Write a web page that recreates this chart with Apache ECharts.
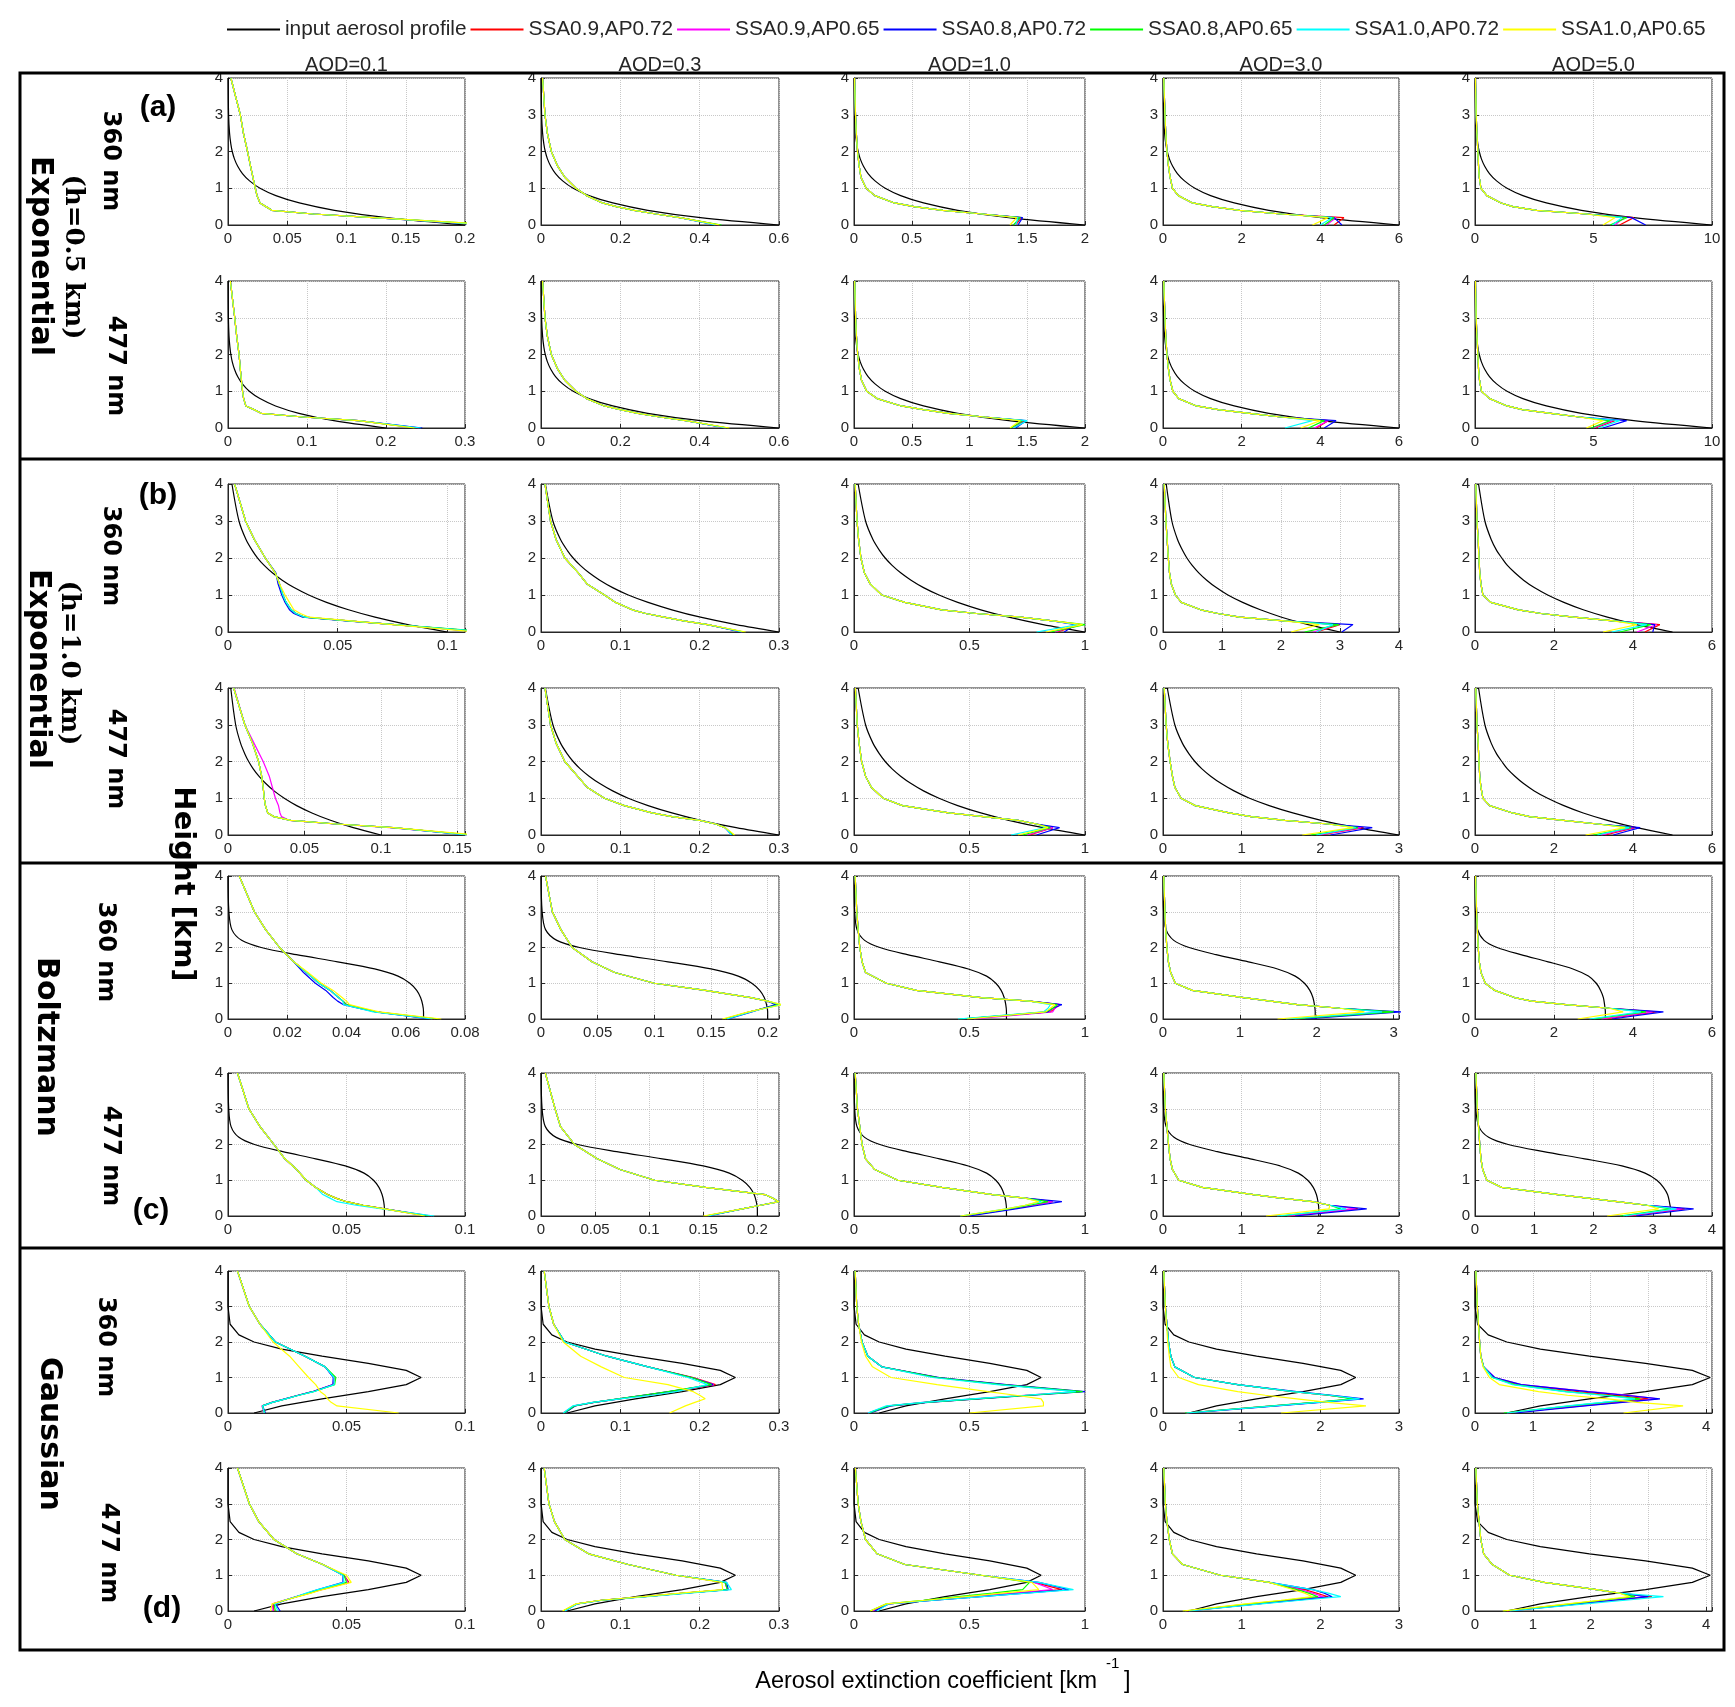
<!DOCTYPE html>
<html><head><meta charset="utf-8">
<script src="https://cdn.jsdelivr.net/npm/echarts@6/dist/echarts.min.js"></script>
<style>html,body{margin:0;padding:0;background:#fff;}#c{width:1735px;height:1707px;}</style>
</head><body><div id="c"></div>
<script>
// ---------- DATA ----------
const zIn  = [0, 0.2, 0.4, 0.6, 0.8, 1.0, 1.2, 1.4, 1.6, 1.8, 2.0, 2.2, 2.5, 3.0, 4.0];
const zRet = [0, 0.2, 0.3, 0.4, 0.5, 0.6, 0.8, 1.0, 1.3, 1.6, 2.0, 2.5, 3.0, 4.0];
const aodTitles = ['AOD=0.1', 'AOD=0.3', 'AOD=1.0', 'AOD=3.0', 'AOD=5.0'];
const seriesNames = ['input aerosol profile', 'SSA0.9,AP0.72', 'SSA0.9,AP0.65', 'SSA0.8,AP0.72', 'SSA0.8,AP0.65', 'SSA1.0,AP0.72', 'SSA1.0,AP0.65'];
const xMax = [
  [0.2, 0.6, 2, 6, 10],
  [0.3, 0.6, 2, 6, 10],
  [0.108, 0.3, 1, 4, 6],
  [0.155, 0.3, 1, 3, 6],
  [0.08, 0.21, 1, 3.07, 6],
  [0.1, 0.22, 1, 3, 4],
  [0.1, 0.3, 1, 3, 4.1],
  [0.1, 0.3, 1, 3, 4.1]
];
const xStep = [
  [0.05, 0.2, 0.5, 2, 5],
  [0.1, 0.2, 0.5, 2, 5],
  [0.05, 0.1, 0.5, 1, 2],
  [0.05, 0.1, 0.5, 1, 2],
  [0.02, 0.05, 0.5, 1, 2],
  [0.05, 0.05, 0.5, 1, 1],
  [0.05, 0.1, 0.5, 1, 1],
  [0.05, 0.1, 0.5, 1, 1]
];

// input profiles (x values at zIn), one per AOD column
const blackExp05 = [
  [0.2, 0.134, 0.0898, 0.0602, 0.0404, 0.027, 0.0182, 0.0122, 0.0082, 0.0054, 0.0036, 0.0024, 0.0013, 0.0005, 0.0001],
  [0.6, 0.402, 0.269, 0.181, 0.121, 0.081, 0.0546, 0.0366, 0.0246, 0.0162, 0.0108, 0.0072, 0.004, 0.0015, 0.0002],
  [2, 1.34, 0.898, 0.602, 0.404, 0.27, 0.182, 0.122, 0.082, 0.054, 0.036, 0.024, 0.013, 0.005, 0.0006],
  [6, 4.02, 2.69, 1.81, 1.21, 0.81, 0.546, 0.366, 0.246, 0.162, 0.108, 0.072, 0.04, 0.015, 0.002],
  [10, 6.7, 4.49, 3.01, 2.02, 1.35, 0.91, 0.61, 0.41, 0.27, 0.18, 0.12, 0.067, 0.025, 0.003]
];
const blackExp10 = [
  [0.1, 0.0819, 0.067, 0.0549, 0.0449, 0.0368, 0.0301, 0.0247, 0.0202, 0.0165, 0.0135, 0.0111, 0.0082, 0.005, 0.0018],
  [0.3, 0.246, 0.201, 0.165, 0.135, 0.11, 0.0903, 0.0741, 0.0606, 0.0495, 0.0405, 0.0333, 0.0246, 0.015, 0.0055],
  [1, 0.819, 0.67, 0.549, 0.449, 0.368, 0.301, 0.247, 0.202, 0.165, 0.135, 0.111, 0.082, 0.05, 0.018],
  [3, 2.46, 2.01, 1.65, 1.35, 1.1, 0.903, 0.741, 0.606, 0.495, 0.405, 0.333, 0.246, 0.15, 0.055],
  [5, 4.09, 3.35, 2.74, 2.25, 1.84, 1.5, 1.23, 1.01, 0.82, 0.68, 0.55, 0.41, 0.25, 0.09]
];
const blackBoltz = [
  [0.066, 0.066, 0.0657, 0.065, 0.0637, 0.0614, 0.0574, 0.0495, 0.037, 0.0231, 0.0112, 0.0046, 0.0013, 0.0003, 0],
  [0.2, 0.2, 0.199, 0.197, 0.193, 0.186, 0.174, 0.15, 0.112, 0.07, 0.034, 0.014, 0.004, 0.001, 0],
  [0.66, 0.66, 0.657, 0.65, 0.637, 0.614, 0.574, 0.495, 0.37, 0.231, 0.112, 0.046, 0.013, 0.003, 0],
  [1.98, 1.98, 1.97, 1.95, 1.91, 1.84, 1.72, 1.49, 1.11, 0.69, 0.34, 0.14, 0.04, 0.008, 0],
  [3.3, 3.3, 3.28, 3.25, 3.18, 3.07, 2.87, 2.48, 1.85, 1.16, 0.56, 0.23, 0.066, 0.013, 0]
];
const blackGauss = [
  [0.011, 0.0227, 0.0397, 0.0592, 0.0752, 0.0815, 0.0752, 0.0592, 0.0397, 0.0227, 0.011, 0.0046, 0.0009, 0, 0],
  [0.033, 0.068, 0.119, 0.178, 0.226, 0.245, 0.226, 0.178, 0.119, 0.068, 0.033, 0.0137, 0.0027, 0.0001, 0],
  [0.109, 0.225, 0.394, 0.588, 0.748, 0.81, 0.748, 0.588, 0.394, 0.225, 0.109, 0.045, 0.009, 0.0002, 0],
  [0.33, 0.68, 1.19, 1.78, 2.26, 2.45, 2.26, 1.78, 1.19, 0.68, 0.33, 0.137, 0.027, 0.001, 0],
  [0.55, 1.13, 1.98, 2.95, 3.76, 4.07, 3.76, 2.95, 1.98, 1.13, 0.55, 0.228, 0.045, 0.001, 0]
];

// retrieved profiles: shared values at zRet per panel, and per-colour leading values
// (order: red, magenta, blue, green, cyan, yellow)
const retBase1 = [
  [0.225, 0.123, 0.072, 0.037, 0.032, 0.027, 0.0245, 0.023, 0.021, 0.019, 0.0165, 0.013, 0.0104, 0.0024],
  [0.45, 0.35, 0.29, 0.235, 0.19, 0.155, 0.115, 0.088, 0.06, 0.042, 0.026, 0.016, 0.01, 0.004],
  [1.38, 1.43, 1.11, 0.77, 0.52, 0.35, 0.18, 0.105, 0.06, 0.045, 0.03, 0.02, 0.013, 0.005],
  [4.2, 4.4, 3.0, 1.95, 1.25, 0.75, 0.39, 0.24, 0.18, 0.14, 0.1, 0.07, 0.05, 0.02],
  [5.8, 6.4, 4.7, 2.6, 1.6, 1.1, 0.5, 0.25, 0.18, 0.15, 0.12, 0.08, 0.05, 0.02]
];
const retLead1 = [
  [[0.22], [0.222], [0.218], [0.228], [0.22], [0.23]],
  [[0.45], [0.445], [0.44], [0.455], [0.44], [0.45]],
  [[1.4, 1.45], [1.39, 1.44], [1.42, 1.46], [1.38, 1.44], [1.4, 1.42], [1.35, 1.41]],
  [[4.35, 4.6], [4.15, 4.4], [4.55, 4.35], [4.1, 4.35], [4.0, 4.3], [3.8, 4.2]],
  [[6.1, 6.7], [5.9, 6.3], [7.2, 6.6], [5.7, 6.4], [5.8, 6.2], [5.4, 5.9]]
];
const retBase2 = [
  [0.242, 0.165, 0.095, 0.042, 0.033, 0.0226, 0.0198, 0.0184, 0.017, 0.0156, 0.014, 0.011, 0.0085, 0.003],
  [0.47, 0.365, 0.3, 0.245, 0.2, 0.16, 0.115, 0.088, 0.06, 0.042, 0.026, 0.016, 0.01, 0.004],
  [1.37, 1.47, 1.13, 0.82, 0.6, 0.41, 0.2, 0.11, 0.065, 0.047, 0.032, 0.021, 0.014, 0.006],
  [3.7, 4.1, 3.0, 2.2, 1.4, 0.85, 0.4, 0.25, 0.18, 0.14, 0.1, 0.07, 0.05, 0.02],
  [5.0, 5.8, 4.4, 3.2, 2.0, 1.35, 0.62, 0.27, 0.19, 0.15, 0.12, 0.08, 0.05, 0.02]
];
const retLead2 = [
  [[0.24], [0.242], [0.246], [0.238], [0.244], [0.236]],
  [[0.47], [0.465], [0.468], [0.472], [0.466], [0.475]],
  [[1.38, 1.47], [1.37, 1.46], [1.4, 1.49], [1.36, 1.46], [1.38, 1.5], [1.35, 1.44]],
  [[3.9, 4.2], [3.85, 4.2], [4.1, 4.4], [3.7, 4.1], [3.1, 3.8], [3.5, 4.0]],
  [[5.1, 5.9], [5.0, 5.8], [5.4, 6.4], [4.9, 5.7], [5.2, 6.1], [4.7, 5.4]]
];
const retBase3 = [
  [0.117, 0.076, 0.055, 0.035, 0.031, 0.0288, 0.0265, 0.025, 0.0235, 0.0215, 0.017, 0.012, 0.008, 0.003],
  [0.255, 0.21, 0.18, 0.155, 0.132, 0.115, 0.094, 0.08, 0.058, 0.047, 0.03, 0.019, 0.012, 0.005],
  [0.85, 0.98, 0.86, 0.72, 0.53, 0.38, 0.22, 0.12, 0.07, 0.045, 0.03, 0.02, 0.013, 0.005],
  [2.5, 2.95, 2.05, 1.3, 0.93, 0.64, 0.31, 0.21, 0.14, 0.11, 0.09, 0.07, 0.05, 0.02],
  [3.7, 4.5, 3.5, 2.5, 1.67, 1.1, 0.4, 0.2, 0.15, 0.12, 0.1, 0.08, 0.05, 0.02]
];
const retLead3 = [
  [[0.118], [0.117], [0.116, 0.076, 0.054, 0.034, 0.03, 0.028, 0.026, 0.0245, 0.0228, 0.0218], [0.12], [0.118], [0.113, 0.075, 0.056, 0.037, 0.033, 0.03, 0.028, 0.026]],
  [[0.255], [0.253], [0.252], [0.256], [0.254], [0.258]],
  [[0.88, 0.98], [0.87, 0.97], [0.91, 0.96], [0.85, 1.0], [0.79, 0.97], [0.83, 0.99]],
  [[2.6, 3.0], [2.55, 2.95], [3.03, 3.22], [2.4, 2.98], [2.6, 2.88], [2.17, 2.65]],
  [[4.3, 4.68], [4.1, 4.6], [4.5, 4.55], [3.67, 4.45], [3.46, 4.35], [3.24, 4.1]]
];
const retBase4 = [
  [0.16, 0.108, 0.071, 0.041, 0.03, 0.026, 0.0245, 0.0237, 0.023, 0.022, 0.02, 0.016, 0.011, 0.0037],
  [0.242, 0.232, 0.22, 0.2, 0.165, 0.14, 0.105, 0.08, 0.058, 0.046, 0.03, 0.019, 0.012, 0.005],
  [0.74, 0.85, 0.79, 0.71, 0.56, 0.41, 0.21, 0.126, 0.075, 0.05, 0.033, 0.022, 0.014, 0.006],
  [1.95, 2.5, 2.1, 1.55, 1.12, 0.84, 0.41, 0.23, 0.15, 0.12, 0.09, 0.06, 0.04, 0.015],
  [3.1, 4.0, 3.1, 2.24, 1.38, 0.95, 0.37, 0.2, 0.15, 0.12, 0.1, 0.08, 0.05, 0.02]
];
const retLead4 = [
  [[0.158], [0.158, 0.106, 0.07, 0.04, 0.035, 0.034, 0.033, 0.031, 0.029, 0.027, 0.023, 0.017, 0.011, 0.004], [0.157], [0.16], [0.156], [0.162]],
  [[0.242], [0.24], [0.241], [0.243], [0.24], [0.244]],
  [[0.76, 0.86], [0.75, 0.86], [0.79, 0.89], [0.73, 0.85], [0.68, 0.83], [0.71, 0.84]],
  [[2.0, 2.55], [1.98, 2.52], [2.13, 2.66], [1.88, 2.48], [1.95, 2.45], [1.77, 2.42]],
  [[3.3, 4.05], [3.2, 4.0], [3.5, 4.18], [3.0, 3.95], [3.1, 3.9], [2.8, 3.8]]
];
const retBase5 = [
  [0.07, 0.05, 0.045, 0.04, 0.0388, 0.0373, 0.0345, 0.0307, 0.0265, 0.0222, 0.0174, 0.0127, 0.0089, 0.0038],
  [0.162, 0.184, 0.197, 0.21, 0.2, 0.185, 0.145, 0.1, 0.065, 0.045, 0.0275, 0.0175, 0.01, 0.004],
  [0.46, 0.84, 0.86, 0.88, 0.76, 0.55, 0.27, 0.14, 0.05, 0.035, 0.025, 0.018, 0.012, 0.005],
  [1.7, 2.9, 2.3, 1.75, 1.4, 1.05, 0.38, 0.16, 0.1, 0.07, 0.05, 0.035, 0.025, 0.01],
  [3.0, 4.3, 3.4, 2.3, 1.44, 1.0, 0.5, 0.26, 0.15, 0.11, 0.08, 0.06, 0.04, 0.015]
];
const retLead5 = [
  [[0.069], [0.07], [0.068, 0.05, 0.044, 0.039, 0.037, 0.0355, 0.033, 0.0295, 0.0255], [0.071], [0.069, 0.049, 0.044, 0.039], [0.072, 0.051, 0.046, 0.041, 0.04, 0.0385, 0.0355, 0.0315, 0.027]],
  [[0.163], [0.162], [0.165, 0.186, 0.196, 0.207], [0.162], [0.164, 0.185, 0.198, 0.212], [0.16, 0.183, 0.198, 0.213]],
  [[0.47, 0.85, 0.87, 0.89], [0.52, 0.86, 0.87, 0.89], [0.47, 0.84, 0.86, 0.9], [0.46, 0.83, 0.86, 0.88], [0.45, 0.82, 0.84, 0.85], [0.49, 0.83, 0.85, 0.87]],
  [[1.75, 2.95], [1.72, 2.9], [1.85, 3.1], [1.7, 3.0], [1.6, 2.85], [1.49, 2.62]],
  [[3.3, 4.6], [3.2, 4.5], [3.47, 4.77], [3.0, 4.33], [2.9, 4.2], [2.6, 3.75]]
];
const retBase6 = [
  [0.086, 0.066, 0.057, 0.05, 0.0455, 0.042, 0.037, 0.033, 0.029, 0.024, 0.0194, 0.0135, 0.0088, 0.004],
  [0.152, 0.186, 0.203, 0.22, 0.214, 0.207, 0.152, 0.105, 0.073, 0.052, 0.031, 0.018, 0.013, 0.004],
  [0.47, 0.67, 0.76, 0.84, 0.74, 0.6, 0.38, 0.19, 0.09, 0.05, 0.035, 0.025, 0.015, 0.005],
  [1.5, 2.3, 2.12, 1.9, 1.5, 1.15, 0.5, 0.2, 0.12, 0.09, 0.07, 0.05, 0.03, 0.01],
  [2.5, 3.3, 2.9, 2.4, 1.9, 1.4, 0.45, 0.2, 0.13, 0.1, 0.08, 0.06, 0.04, 0.015]
];
const retLead6 = [
  [[0.085], [0.086], [0.084], [0.085], [0.087, 0.065, 0.054, 0.046, 0.043, 0.04], [0.083]],
  [[0.153], [0.152], [0.155], [0.152], [0.154], [0.15]],
  [[0.48, 0.68, 0.78, 0.86], [0.49, 0.68, 0.78, 0.86], [0.5, 0.7, 0.8, 0.9], [0.47, 0.67, 0.76, 0.84], [0.46, 0.66, 0.74, 0.81], [0.46, 0.66, 0.74, 0.8]],
  [[1.6, 2.48], [1.58, 2.45], [1.68, 2.59], [1.5, 2.26], [1.45, 2.33], [1.31, 2.11]],
  [[2.6, 3.54], [2.55, 3.5], [2.72, 3.69], [2.45, 3.3], [2.5, 3.4], [2.23, 3.1]]
];
const retBase7 = [
  [0.0155, 0.0145, 0.0187, 0.0243, 0.0298, 0.036, 0.045, 0.0455, 0.041, 0.0325, 0.02, 0.0135, 0.009, 0.004],
  [0.029, 0.042, 0.066, 0.097, 0.128, 0.16, 0.215, 0.19, 0.135, 0.083, 0.03, 0.016, 0.01, 0.004],
  [0.065, 0.15, 0.31, 0.53, 0.75, 0.97, 0.64, 0.36, 0.12, 0.06, 0.035, 0.02, 0.012, 0.005],
  [0.3, 1.4, 1.95, 2.45, 2.1, 1.65, 0.95, 0.4, 0.15, 0.1, 0.07, 0.05, 0.03, 0.01],
  [0.55, 1.7, 2.3, 2.9, 2.2, 1.6, 0.6, 0.3, 0.15, 0.1, 0.08, 0.06, 0.04, 0.015]
];
const retLead7 = [
  [[0.0155, 0.0145, 0.0187, 0.0243, 0.0298, 0.0358, 0.0445, 0.0448], [0.0152, 0.0143, 0.0185, 0.024, 0.0295, 0.0355, 0.0442, 0.0446], [0.0158, 0.0146, 0.0186, 0.0241, 0.0296, 0.0356, 0.0443, 0.0444], [0.0155], [0.0153, 0.0146, 0.0188, 0.0244, 0.03, 0.0362, 0.0448, 0.0447], [0.072, 0.046, 0.0435, 0.042, 0.041, 0.039, 0.037, 0.034, 0.03, 0.026, 0.019, 0.0135, 0.009, 0.004]],
  [[0.029, 0.042, 0.067, 0.099, 0.13, 0.163, 0.22, 0.192], [0.028, 0.041, 0.066, 0.098, 0.129, 0.162, 0.218], [0.03, 0.043, 0.067, 0.098, 0.129, 0.161, 0.217], [0.029], [0.028, 0.04, 0.065, 0.1, 0.14, 0.17, 0.21, 0.185], [0.162, 0.182, 0.194, 0.207, 0.2, 0.192, 0.16, 0.105, 0.076, 0.05, 0.028, 0.016, 0.01, 0.004]],
  [[0.065, 0.15, 0.31, 0.53, 0.75, 0.98], [0.06, 0.15, 0.3, 0.52, 0.74, 0.97, 0.65], [0.07, 0.16, 0.32, 0.54, 0.77, 1.0, 0.66, 0.37], [0.065, 0.15, 0.31, 0.53, 0.76, 0.99], [0.06, 0.14, 0.3, 0.51, 0.74, 0.96, 0.62, 0.34], [0.5, 0.82, 0.82, 0.81, 0.7, 0.58, 0.36, 0.16, 0.08, 0.05, 0.032, 0.02, 0.012, 0.005]],
  [[0.3, 1.4, 1.95, 2.45], [0.29, 1.4, 1.96, 2.48], [0.33, 1.45, 2.0, 2.55, 2.15, 1.7], [0.28, 1.38, 1.92, 2.42], [0.3, 1.42, 1.97, 2.5, 2.12, 1.66], [1.5, 2.58, 2.1, 1.7, 1.3, 0.95, 0.45, 0.2, 0.1, 0.08, 0.06, 0.045, 0.03, 0.01]],
  [[0.6, 1.8, 2.4, 3.0, 2.45, 1.8, 0.75, 0.32], [0.55, 1.85, 2.5, 3.16, 2.67, 1.98, 0.8, 0.34], [0.7, 1.9, 2.55, 3.2, 2.6, 1.95, 0.8, 0.34], [0.5, 1.65, 2.25, 2.86, 2.27, 1.58, 0.69, 0.3], [0.55, 1.6, 2.2, 2.77, 2.2, 1.55, 0.65, 0.3], [2.57, 3.6, 2.8, 2.3, 1.6, 1.1, 0.42, 0.25, 0.14, 0.1, 0.08, 0.06, 0.04, 0.015]]
];
const retBase8 = [
  [0.02, 0.0194, 0.024, 0.029, 0.034, 0.039, 0.05, 0.049, 0.04, 0.029, 0.0194, 0.013, 0.009, 0.004],
  [0.028, 0.045, 0.076, 0.13, 0.18, 0.235, 0.232, 0.17, 0.11, 0.06, 0.03, 0.017, 0.01, 0.004],
  [0.08, 0.15, 0.33, 0.52, 0.71, 0.9, 0.78, 0.55, 0.22, 0.1, 0.05, 0.03, 0.018, 0.006],
  [0.3, 1.2, 1.65, 2.1, 1.95, 1.8, 1.35, 0.73, 0.25, 0.12, 0.08, 0.05, 0.03, 0.01],
  [0.55, 1.75, 2.35, 3.0, 2.5, 2.1, 1.2, 0.6, 0.3, 0.15, 0.1, 0.07, 0.04, 0.015]
];
const retLead8 = [
  [[0.0194, 0.019, 0.0238, 0.029, 0.0345, 0.0395, 0.051], [0.019, 0.0188, 0.0236, 0.0288, 0.034, 0.0392, 0.0505], [0.022, 0.02, 0.0242, 0.0288, 0.0335, 0.038, 0.0485, 0.0485], [0.02], [0.021, 0.0198, 0.0238, 0.0285, 0.033, 0.0378, 0.049, 0.0485], [0.018, 0.0186, 0.024, 0.0295, 0.035, 0.04, 0.052, 0.05]],
  [[0.028], [0.029], [0.03, 0.046, 0.077, 0.13, 0.182, 0.236, 0.234], [0.028], [0.03, 0.046, 0.078, 0.134, 0.186, 0.24, 0.234], [0.027, 0.044, 0.075, 0.128, 0.176, 0.229, 0.228]],
  [[0.08, 0.15, 0.34, 0.53, 0.71, 0.9, 0.78], [0.08, 0.15, 0.33, 0.51, 0.69, 0.86, 0.78], [0.09, 0.15, 0.35, 0.55, 0.74, 0.93, 0.8], [0.07, 0.14, 0.3, 0.45, 0.6, 0.73, 0.76], [0.1, 0.15, 0.35, 0.55, 0.75, 0.95, 0.8], [0.07, 0.14, 0.31, 0.48, 0.64, 0.8, 0.77]],
  [[0.3, 1.2, 1.65, 2.1, 1.95, 1.8], [0.28, 1.15, 1.6, 2.04, 1.9, 1.75], [0.32, 1.2, 1.7, 2.15, 2.05, 1.9], [0.27, 1.1, 1.55, 1.97, 1.85, 1.7], [0.33, 1.25, 1.75, 2.26, 2.1, 1.9], [0.25, 1.05, 1.5, 1.9, 1.8, 1.65]],
  [[0.55, 1.8, 2.45, 3.06], [0.55, 1.75, 2.35, 2.96], [0.6, 1.8, 2.4, 3.0], [0.5, 1.65, 2.2, 2.77], [0.6, 1.9, 2.6, 3.26], [0.48, 1.6, 2.15, 2.67]]
];

// ---------- LAYOUT / STYLE ----------
const colors = ['#000000', '#ff0000', '#ff00ff', '#0000ff', '#00ff00', '#00ffff', '#ffff00'];
const colLeft = [228, 541, 854, 1163, 1475];
const colW = [237, 238, 231, 236, 237];
const rowTop = [78, 281, 484, 688, 876, 1073, 1271, 1468];
const rowH = [147, 147, 148, 147, 143, 143, 142, 143];
const blackRows = [blackExp05, blackExp05, blackExp10, blackExp10, blackBoltz, blackBoltz, blackGauss, blackGauss];
const baseRows = [retBase1, retBase2, retBase3, retBase4, retBase5, retBase6, retBase7, retBase8];
const leadRows = [retLead1, retLead2, retLead3, retLead4, retLead5, retLead6, retLead7, retLead8];
const smoothRows = [0.3, 0.3, 0.3, 0.3, 0.3, 0.3, 0, 0];
const AX = '#262626';
const FF = '"Liberation Sans", Arial, sans-serif';

const grids = [], xAxes = [], yAxes = [], series = [];
function fmtTick(step) {
  return function (v) {
    const q = v / step;
    if (Math.abs(q - Math.round(q)) > 1e-6) return '';
    return String(+v.toFixed(6));
  };
}
for (let r = 0; r < 8; r++) {
  for (let c = 0; c < 5; c++) {
    const g = r * 5 + c;
    grids.push({ left: colLeft[c], top: rowTop[r], width: colW[c], height: rowH[r], containLabel: false, outerBoundsMode: 'none', show: true, borderColor: AX, borderWidth: 1, backgroundColor: '#fff' });
    xAxes.push({
      type: 'value', gridIndex: g, min: 0, max: xMax[r][c], interval: xStep[r][c],
      axisLine: { show: true, onZero: false, lineStyle: { color: AX, width: 1 } },
      axisTick: { show: true, inside: true, length: 4, lineStyle: { color: AX } },
      axisLabel: { show: true, fontSize: 15, fontFamily: FF, color: AX, margin: 6, formatter: fmtTick(xStep[r][c]), hideOverlap: false },
      splitLine: { show: true, lineStyle: { color: '#c8c8c8', type: 'dotted', width: 1 } }
    });
    yAxes.push({
      type: 'value', gridIndex: g, min: 0, max: 4, interval: 1,
      axisLine: { show: true, onZero: false, lineStyle: { color: AX, width: 1 } },
      axisTick: { show: true, inside: true, length: 4, lineStyle: { color: AX } },
      axisLabel: { show: true, fontSize: 15, fontFamily: FF, color: AX, margin: 5, hideOverlap: false },
      splitLine: { show: true, lineStyle: { color: '#c8c8c8', type: 'dotted', width: 1 } }
    });
    const blk = blackRows[r][c];
    series.push({
      type: 'line', name: seriesNames[0], xAxisIndex: g, yAxisIndex: g,
      data: zIn.map((z, i) => [blk[i], z]), symbol: 'none', showSymbol: false,
      smooth: smoothRows[r], clip: true, silent: true, animation: false,
      lineStyle: { color: colors[0], width: 1.2 }, itemStyle: { color: colors[0] }
    });
    const base = baseRows[r][c];
    for (let k = 0; k < 6; k++) {
      const lead = leadRows[r][c][k];
      const vals = base.map((v, i) => (i < lead.length ? lead[i] : v));
      series.push({
        type: 'line', name: seriesNames[k + 1], xAxisIndex: g, yAxisIndex: g,
        data: zRet.map((z, i) => [vals[i], z]), symbol: 'none', showSymbol: false,
        clip: true, silent: true, animation: false,
        lineStyle: { color: colors[k + 1], width: 1.2 }, itemStyle: { color: colors[k + 1] }
      });
    }
  }
}

function vtext(txt, x, y, font) {
  return { type: 'text', x: x, y: y, rotation: -Math.PI / 2, silent: true, z: 100,
    style: { text: txt, font: font, fill: '#000', align: 'center', verticalAlign: 'middle', textAlign: 'center', textVerticalAlign: 'middle' } };
}
function htext(txt, x, y, font, align, fill) {
  return { type: 'text', x: x, y: y, silent: true, z: 100,
    style: { text: txt, font: font, fill: fill || '#000', align: align || 'center', verticalAlign: 'middle', textAlign: align || 'center', textVerticalAlign: 'middle' } };
}
const bigF = 'bold 30px "DejaVu Sans"';
const nmF = 'bold 24px "DejaVu Sans"';
const serF = 'bold 26px "DejaVu Serif"';
const letF = 'bold 30px "Liberation Sans"';
const graphics = [
  { type: 'rect', silent: true, z: 50, shape: { x: 20, y: 73, width: 1704, height: 1577 }, style: { fill: 'none', stroke: '#000', lineWidth: 3 } },
  { type: 'line', silent: true, z: 50, shape: { x1: 20, y1: 459, x2: 1724, y2: 459 }, style: { stroke: '#000', lineWidth: 3 } },
  { type: 'line', silent: true, z: 50, shape: { x1: 20, y1: 863, x2: 1724, y2: 863 }, style: { stroke: '#000', lineWidth: 3 } },
  { type: 'line', silent: true, z: 50, shape: { x1: 20, y1: 1248, x2: 1724, y2: 1248 }, style: { stroke: '#000', lineWidth: 3 } },
  htext('(a)', 158, 108, letF), htext('(b)', 158, 496, letF), htext('(c)', 151, 1211, letF), htext('(d)', 162, 1609, letF),
  vtext('360 nm', 110, 161, nmF), vtext('(h=0.5 km)', 73, 257, serF), vtext('Exponential', 40, 256, bigF), vtext('477 nm', 115, 366, nmF),
  vtext('360 nm', 110, 556, nmF), vtext('(h=1.0 km)', 69, 663, serF), vtext('Exponential', 38, 669, bigF), vtext('477 nm', 115, 759, nmF),
  vtext('360 nm', 105, 952, nmF), vtext('Boltzmann', 46, 1047, bigF), vtext('477 nm', 110, 1156, nmF),
  vtext('360 nm', 105, 1347, nmF), vtext('Gaussian', 49, 1434, bigF), vtext('477 nm', 108, 1553, nmF),
  vtext('Height [km]', 183, 884, 'bold 29px "DejaVu Sans"'),
  htext('Aerosol extinction coefficient [km', 1097, 1682, '23.5px "Liberation Sans"', 'right'),
  htext('-1', 1106, 1664, '15px "Liberation Sans"', 'left'),
  htext(']', 1124, 1682, '23.5px "Liberation Sans"', 'left')
];
for (let c = 0; c < 5; c++) {
  graphics.push(htext(aodTitles[c], colLeft[c] + colW[c] / 2, 65, '20px "Liberation Sans"', 'center', AX));
}

const option = {
  backgroundColor: '#ffffff',
  animation: false,
  textStyle: { fontFamily: FF },
  legend: {
    data: seriesNames, left: 222, top: 14, orient: 'horizontal',
    itemWidth: 53, itemHeight: 2, itemGap: 4, icon: 'rect', selectedMode: false,
    textStyle: { fontFamily: FF, fontSize: 20.8, color: AX }
  },
  grid: grids,
  xAxis: xAxes,
  yAxis: yAxes,
  series: series,
  graphic: { elements: graphics }
};
const chart = echarts.init(document.getElementById('c'), null, { renderer: 'canvas', width: 1735, height: 1707 });
chart.setOption(option);
</script>
</body></html>
